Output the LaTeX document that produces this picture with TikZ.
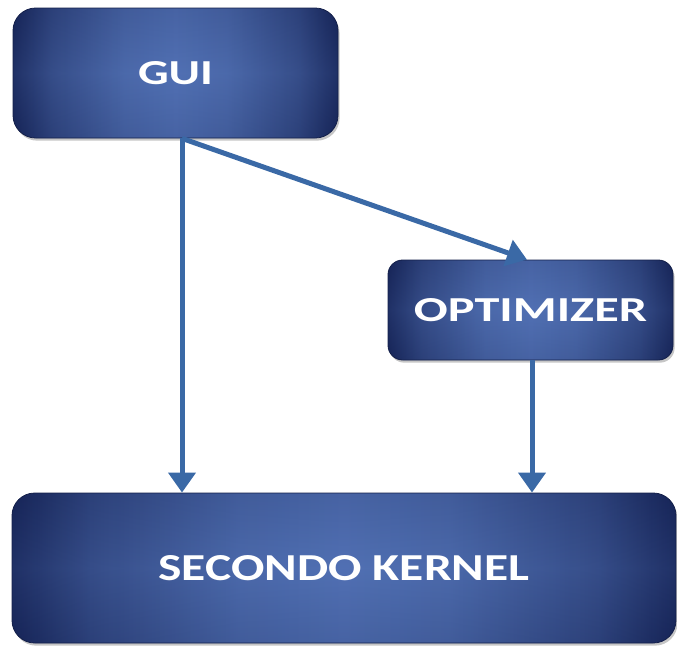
\documentclass[tikz,border=0pt]{standalone}
\usepackage{fontspec}
\setmainfont{Carlito}
\usetikzlibrary{arrows.meta,shadows,calc}
\definecolor{boxdark}{HTML}{1A2A64}
\definecolor{boxlight}{HTML}{5D81CE}
\definecolor{arrowblue}{HTML}{3A69A6}
\definecolor{boxedge}{HTML}{14204A}
\pgfdeclarehorizontalshading{blockshade}{100bp}{color(0bp)=(boxdark); color(25bp)=(boxdark); color(31bp)=(boxdark!55!boxlight); color(42bp)=(boxdark!12!boxlight); color(50bp)=(boxlight); color(58bp)=(boxdark!12!boxlight); color(69bp)=(boxdark!55!boxlight); color(75bp)=(boxdark); color(100bp)=(boxdark)}
\tikzset{
  blockbox/.style={draw=boxedge, line width=0.6pt,
    shade, shading=blockshade,
    drop shadow={shadow xshift=1.2pt, shadow yshift=-2pt, opacity=0.45},
    path picture={\fill[top color=boxdark, bottom color=boxdark, middle color=boxlight, opacity=0.15]
      (path picture bounding box.south west) rectangle (path picture bounding box.north east);},
    text=white, font=\bfseries, inner sep=0pt},
  flow/.style={draw=arrowblue, line width=3.75pt, -{Triangle[width=20pt,length=15pt]}}
}
\begin{document}
\begin{tikzpicture}[x=0.75pt,y=-0.75pt]
\useasboundingbox (0,0) rectangle (677,646);
\node[blockbox, rounded corners=17pt, minimum width=243.75pt, minimum height=97.5pt]
  (gui) at (175.5,73) {\resizebox{56.25pt}{17.25pt}{GUI}};
\node[blockbox, rounded corners=11pt, minimum width=213.75pt, minimum height=75pt]
  (opt) at (530.5,310) {\resizebox{174.75pt}{17.25pt}{OPTIMIZER}};
\node[blockbox, rounded corners=17pt, minimum width=498pt, minimum height=112.5pt]
  (kernel) at (344,568) {\resizebox{278.25pt}{18.75pt}{SECONDO KERNEL}};
\coordinate (ga) at ($(gui.south)+(6.5,0)$);
\coordinate (ot) at ($(opt.north)+(-3.5,0)$);
\coordinate (ob) at ($(opt.south)+(1.5,0)$);
\draw[flow] (ga) -- (ga |- kernel.north);
\draw[flow] (ga) -- (ot);
\draw[flow] (ob) -- (ob |- kernel.north);
\end{tikzpicture}
\end{document}
